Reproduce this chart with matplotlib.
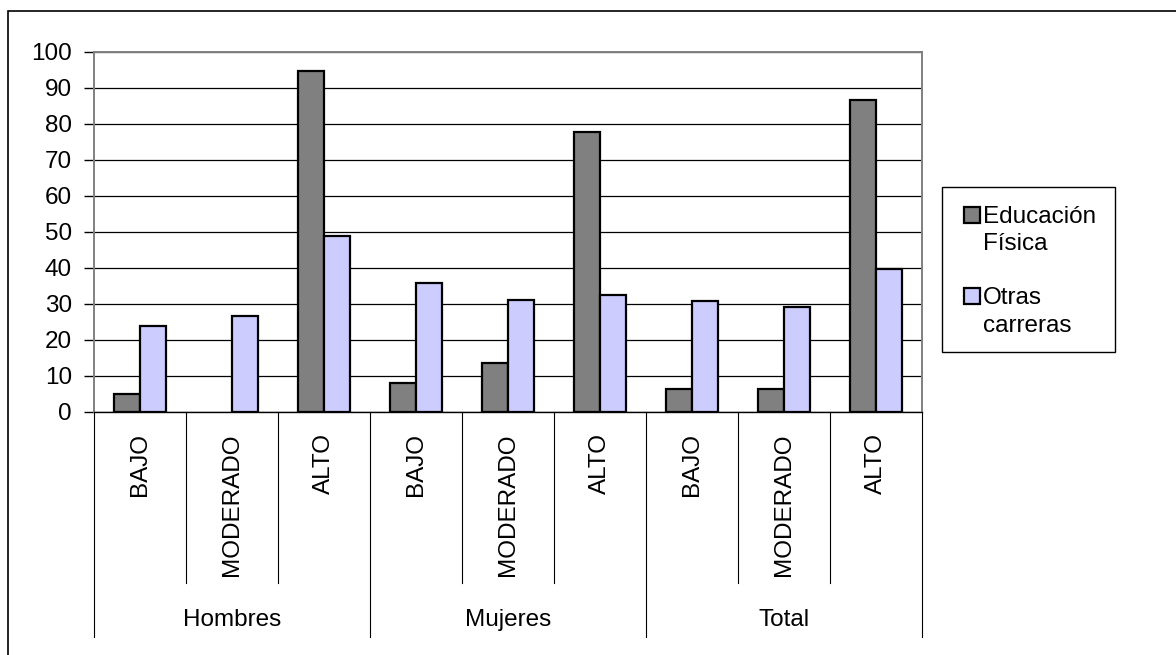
import matplotlib.pyplot as plt
import matplotlib.transforms as mtransforms
from matplotlib.patches import Rectangle
import numpy as np

plt.rcParams['font.family'] = ['Liberation Sans', 'DejaVu Sans']

# niveles por grupo
grupos = ['Hombres', 'Mujeres', 'Total']
niveles = ['BAJO', 'MODERADO', 'ALTO']
series = [['Educación', 'Física'], ['Otras', 'carreras']]
educacion_fisica = [5, 0, 94.7, 8.1, 13.7, 77.8, 6.5, 6.5, 86.6]
otras_carreras = [23.8, 26.6, 49.0, 35.8, 31.0, 32.6, 30.7, 29.2, 39.8]
colores = ['#808080', '#CCCCFF']

W, H = 1176, 655
FS = 17.5
fig = plt.figure(figsize=(W / 100, H / 100), dpi=100)
ax = fig.add_axes([94 / W, 1 - 412 / H, (922 - 94) / W, (412 - 52) / H])

n = len(educacion_fisica)
x = np.arange(n)
bw = 0.288
b1 = ax.bar(x - bw / 2, educacion_fisica, bw, color=colores[0], edgecolor='black',
            linewidth=1.6, zorder=3)
b2 = ax.bar(x + bw / 2, otras_carreras, bw, color=colores[1], edgecolor='black',
            linewidth=1.6, zorder=3)
# las barras de valor cero no se dibujan
for barras in (b1, b2):
    for r in barras:
        if r.get_height() == 0:
            r.set_visible(False)

ax.set_xlim(-0.5, n - 0.5)
ax.set_ylim(0, 100)
ax.set_yticks(range(0, 101, 10))
ax.tick_params(axis='y', labelsize=FS, length=7, width=1, pad=9, direction='out')
ax.set_xticks([])
ax.yaxis.grid(True, color='black', linewidth=0.9, zorder=1)
ax.set_axisbelow(True)
for s in ['top', 'right', 'left']:
    ax.spines[s].set_color('#808080')
    ax.spines[s].set_linewidth(1.4)
ax.spines['bottom'].set_color('black')
ax.spines['bottom'].set_linewidth(1)

# eje de categorías en dos niveles
trans = mtransforms.blended_transform_factory(ax.transData, ax.transAxes)
px = 1 / (412 - 52)
for k in range(n + 1):
    xb = k - 0.5
    bajo = 637 if k % 3 == 0 else 583
    ax.plot([xb, xb], [0, -(bajo - 412) * px], transform=trans, color='black',
            linewidth=0.8, clip_on=False)
for i in range(n):
    ax.text(i, -(433 - 412) * px, niveles[i % 3], transform=trans, rotation=90,
            ha='center', va='top', fontsize=FS)
for g, nombre in enumerate(grupos):
    ax.text(g * 3 + 1, -(620 - 412) * px, nombre, transform=trans,
            ha='center', va='center', fontsize=FS)

# leyenda: cuadro a la derecha, marcador junto a la primera línea
def fx(p):
    return p / W

def fy(p):
    return 1 - p / H

fig.add_artist(Rectangle((fx(942), fy(352)), fx(1115) - fx(942), fy(187) - fy(352),
                         transform=fig.transFigure, fill=False,
                         edgecolor='black', linewidth=1))
for j, (lineas, c) in enumerate(zip(series, colores)):
    base = 223 + j * 81
    fig.add_artist(Rectangle((fx(963.5), fy(base)), fx(16), 16 / H,
                             transform=fig.transFigure, facecolor=c,
                             edgecolor='black', linewidth=1.6))
    for m, t in enumerate(lineas):
        fig.text(fx(983), fy(base + m * 27.5), t, fontsize=FS,
                 ha='left', va='baseline')

# marco exterior
fig.add_artist(Rectangle((8 / W, -0.5), 2, 0.5 + 1 - 11.5 / H, transform=fig.transFigure,
                         fill=False, edgecolor='black', linewidth=1.2))

fig.savefig('out.png', dpi=100)
